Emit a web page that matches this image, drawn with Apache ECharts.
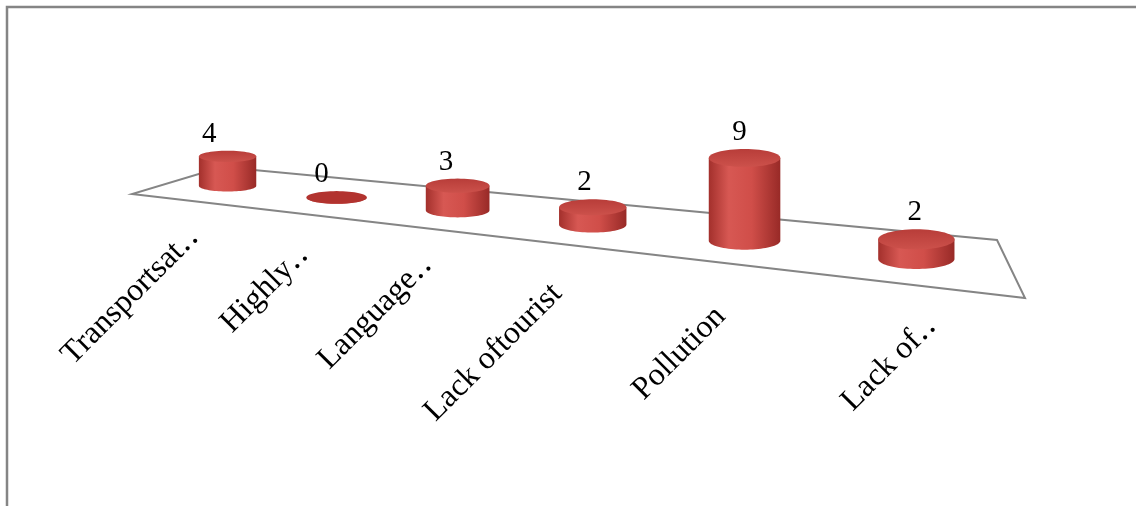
<!DOCTYPE html>
<html>
<head>
<meta charset="utf-8">
<script src="https://cdn.jsdelivr.net/npm/echarts@6/dist/echarts.min.js"></script>
<style>
  html, body { margin: 0; padding: 0; background: #fff; }
  #chart { width: 1136px; height: 506px; }
</style>
</head>
<body>
<div id="chart"></div>
<script>
// Problems reported, with the number of responses for each
const categories = ['Transportsat\u2025', 'Highly\u2025', 'Language\u2025', 'Lack oftourist', 'Pollution', 'Lack of\u2025'];
const values = [4, 0, 3, 2, 9, 2];

// Floor plane of the 3-D view, in screen pixels
const FLOOR = {
  frontL: [132, 194],
  frontR: [1025, 298],
  backL: [222, 167],
  backR: [997, 240]
};
// depth of the right end relative to the left end (right side is nearer)
const DEPTH_RATIO = 0.71;
// fine placement of the slanted category labels
const LABEL_SHIFT = [[15, 2], [8, 6], [2, 1], [-13, 13], [-12, 17], [15, 5]];

function persp(t) {
  const w = (1 - t) + t * DEPTH_RATIO;
  return { lam: t * DEPTH_RATIO / w, sc: 1 / w };
}
function lerp(a, b, k) {
  return [a[0] + (b[0] - a[0]) * k, a[1] + (b[1] - a[1]) * k];
}
function arcPts(cx, cy, rx, ry, a0, a1, n) {
  const pts = [];
  for (let i = 0; i <= n; i++) {
    const a = a0 + (a1 - a0) * i / n;
    pts.push([cx + rx * Math.cos(a), cy + ry * Math.sin(a)]);
  }
  return pts;
}

const SERIF = '"Liberation Serif", "Times New Roman", "DejaVu Serif", serif';

const bodyFill = new echarts.graphic.LinearGradient(0, 0, 1, 0, [
  { offset: 0, color: '#a3302c' },
  { offset: 0.28, color: '#d75853' },
  { offset: 0.6, color: '#d04e49' },
  { offset: 1, color: '#982a27' }
]);
const topFill = new echarts.graphic.LinearGradient(0, 0, 0, 1, [
  { offset: 0, color: '#b83d39' },
  { offset: 1, color: '#cc514b' }
]);

function renderCylinder(params, api) {
  const i = api.value(0);
  const v = api.value(1);
  const p0 = api.coord([i, 0]);
  const pv = api.coord([i, v]);
  const cs = params.coordSys;
  const t = (p0[0] - cs.x) / cs.width;
  const { lam, sc } = persp(t);

  const front = lerp(FLOOR.frontL, FLOOR.frontR, lam);
  const back = lerp(FLOOR.backL, FLOOR.backR, lam);
  const base = lerp(front, back, 0.5);
  const cx = base[0];
  const rx = 28 * sc;
  const ry = rx * (0.19 + 0.08 * t);
  const h = (p0[1] - pv[1]) * sc;
  const top = base[1] - h;

  const bodyPts = [[cx - rx, top]]
    .concat(arcPts(cx, base[1], rx, ry, Math.PI, 0, 40))
    .concat([[cx + rx, top]]);
  const shift = LABEL_SHIFT[i];

  return {
    type: 'group',
    children: [
      {
        type: 'polygon',
        shape: { points: bodyPts },
        style: { fill: bodyFill, stroke: null }
      },
      {
        type: 'polygon',
        shape: { points: arcPts(cx, top, rx, ry, 0, Math.PI * 2, 60) },
        style: { fill: v === 0 ? '#b2332f' : topFill, stroke: null }
      },
      {
        type: 'text',
        x: cx - 20 * (1 - t),
        y: top - ry - 2,
        style: {
          text: String(v),
          font: '29px ' + SERIF,
          fill: '#000',
          align: 'center',
          verticalAlign: 'bottom'
        }
      },
      {
        type: 'text',
        x: front[0] - 7 + shift[0],
        y: front[1] + 30 + shift[1],
        rotation: Math.PI / 4,
        style: {
          text: categories[i],
          font: '32px ' + SERIF,
          fill: '#000',
          align: 'right',
          verticalAlign: 'middle'
        }
      }
    ]
  };
}

function renderFloor() {
  return {
    type: 'polygon',
    shape: { points: [FLOOR.frontL, FLOOR.frontR, FLOOR.backR, FLOOR.backL] },
    style: { fill: null, stroke: '#858585', lineWidth: 2 }
  };
}

const chart = echarts.init(document.getElementById('chart'), null, { renderer: 'canvas' });
chart.setOption({
  animation: false,
  backgroundColor: '#fff',
  grid: { left: 100, top: 100, width: 600, height: 72 },
  xAxis: { type: 'category', data: categories, boundaryGap: true, show: false },
  yAxis: { type: 'value', min: 0, max: 10, show: false },
  graphic: [
    {
      type: 'polyline',
      shape: { points: [[7, 506], [7, 7], [1136, 7]] },
      style: { stroke: '#858585', lineWidth: 2.5, fill: null },
      silent: true
    }
  ],
  series: [
    {
      type: 'custom',
      coordinateSystem: 'none',
      data: [0],
      renderItem: renderFloor,
      z: 1
    },
    {
      type: 'custom',
      coordinateSystem: 'cartesian2d',
      data: values.map((v, i) => [i, v]),
      encode: { x: 0, y: 1 },
      renderItem: renderCylinder,
      z: 2
    }
  ]
});
</script>
</body>
</html>
